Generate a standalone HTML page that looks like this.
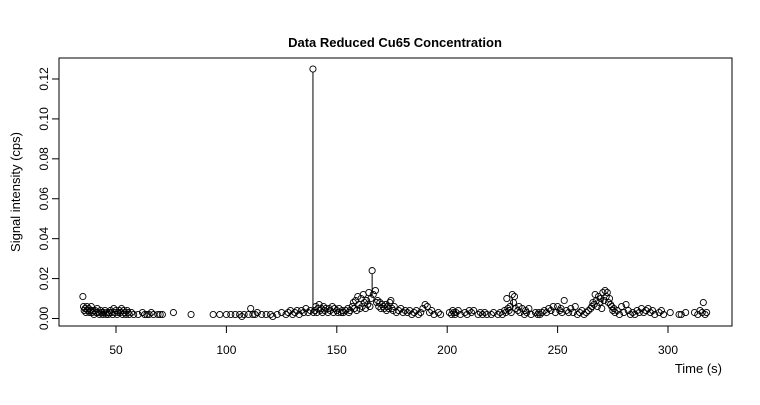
<!DOCTYPE html>
<html><head><meta charset="utf-8"><style>
body{margin:0;background:#fff}
svg text{font-family:"Liberation Sans",sans-serif;fill:#000}
</style></head><body>
<svg id="chart" width="760" height="400" xmlns="http://www.w3.org/2000/svg">
<rect width="760" height="400" fill="#fff"/>
<text x="395" y="47" text-anchor="middle" font-size="13" font-weight="bold">Data Reduced Cu65 Concentration</text>
<rect x="59" y="58" width="673" height="268" fill="none" stroke="#000" stroke-width="1"/>
<text transform="translate(20,192) rotate(-90)" text-anchor="middle" font-size="13">Signal intensity (cps)</text>
<text x="722" y="373" text-anchor="end" font-size="13">Time (s)</text>
<g id="axes"></g>
<g id="marks"></g>
</svg>
<script>
const xTicks=[50,100,150,200,250,300];
const yTicks=[0,0.02,0.04,0.06,0.08,0.1,0.12];
const yTickLabels=["0.00","0.02","0.04","0.06","0.08","0.10","0.12"];
const times=[35,35.3,35.6,36,36.4,36.8,37.2,37.6,38,38.4,38.8,39.2,39.6,40,40.5,41,41.5,42,42.5,43,43.5,44,44.5,45,45.5,46,46.5,47,47.5,48,48.5,49,49.5,50,50.5,51,51.5,52,52.5,53,53.5,54,54.5,55,55.5,56,57,58,60,62,63,64,65,66,67,69,70,71,76,84,94,97,100,102,104,106,107,108,110,111,112,113,114,116,118,120,121,123,125,127,128,129,130,131,132,133,134,135,136,137,138,139.2,139.5,140,140.5,141,141.5,142,142.5,143,143.5,144,144.5,145,146,146.5,147,148,148.5,149,150,150.5,151,152,152.5,153,154,155,155.5,156,157,157.5,158,158.5,159,159.5,160,160.5,161,161.5,162,162.5,163,163.5,164,164.5,165,165.5,166,166.5,167.5,168,168.5,169,169.5,170,170.5,171,171.5,172,172.5,173,173.5,174,174.5,175,175.5,176,177,178,179,180,181,182,183,184,185,186,187,188,189,190,191,192,193,194,196,197,201,202,202.5,203,203.5,204,205,206,208,209,210,211,212,214,215,216,217,218,220,221,223,224,225,226,226.5,227,227.5,228,228.5,229,229.5,230,230.5,231,232,232.5,233,234,235,235.5,236,237,238,240,241,241.5,242,243,244,245,246,247,248,249,250,251,251.5,252,253,254,255,256,257,258,259,260,261,262,263,264,265,265.5,266,266.5,267,267.5,268,268.5,269,269.5,270,270.5,271,271.5,272,272.5,273,273.5,274,274.5,275,275.5,276,277,278,279,280,281,282,283,284,285,286,287,288,289,290,291,292,293,294,296,297,298,301,305,306,308,312,313.5,314.5,315.5,316,316.8,317.5];
const valuesMilli=[11,6,4,5,3,6,4,5,3,4,6,3,4,2,4,3,5,3,2,4,3,2,3,4,2,3,2,3,4,3,2,5,3,4,2,3,4,3,5,2,4,3,2,4,3,2,3,2,2,3,2,2,2,3,2,2,2,2,3,2,2,2,2,2,2,2,1,2,2,5,2,2,3,2,2,2,1,2,3,2,3,4,2,3,4,2,4,3,5,3,4,125,3,4,6,3,5,7,4,5,3,6,4,5,3,5,4,6,3,5,4,3,5,3,4,3,4,5,3,4,6,8,5,9,4,11,7,5,10,6,12,8,5,9,7,13,6,10,24,12,14,8,9,6,8,5,7,6,5,7,4,6,5,8,9,5,4,6,3,4,5,3,4,3,4,2,3,4,2,3,5,7,6,3,4,2,3,2,3,2,4,3,2,3,4,2,3,2,4,3,4,2,3,2,3,2,2,3,2,3,2,4,3,10,5,4,6,3,12,8,11,5,4,6,3,5,2,4,3,5,2,3,2,3,2,3,4,3,5,4,6,3,6,4,5,3,9,4,3,5,3,6,2,3,4,2,3,4,5,6,8,7,12,9,6,11,8,10,5,13,9,14,11,13,8,10,7,6,4,5,3,4,2,6,3,7,4,2,3,2,4,3,5,3,4,5,3,4,2,3,4,2,3,2,2,3,3,2,4,3,8,2,3,4];
const NS="http://www.w3.org/2000/svg";
const X0=59,X1=732,Y0=58,Y1=326,R=3.1;
function xScale(t){return 116+(t-50)*(668-116)/250;}
function yScale(v){return 318.5-v*(318.5-79)/0.12;}
const axes=document.getElementById('axes');
const marks=document.getElementById('marks');
function mk(tag,attrs,parent){const e=document.createElementNS(NS,tag);for(const k in attrs)e.setAttribute(k,attrs[k]);parent.appendChild(e);return e;}
xTicks.forEach((t,i)=>{
  const x=xScale(t);
  const l=mk('line',{x1:x,x2:x,y1:Y1,y2:Y1+7,stroke:'#000'},axes);
  
  
  const tx=mk('text',{x:x,y:354,'text-anchor':'middle','font-size':'12'},axes);
  tx.textContent=String(t);
  
  
});
yTicks.forEach((v,i)=>{
  const y=yScale(v);
  const l=mk('line',{x1:X0-7,x2:X0,y1:y,y2:y,stroke:'#000'},axes);
  
  
  const tx=mk('text',{transform:`translate(48,${y}) rotate(-90)`,'text-anchor':'middle','font-size':'12'},axes);
  tx.textContent=yTickLabels[i];
  
  
});
const pts=times.map((t,i)=>[xScale(t),yScale(valuesMilli[i]/1000)]);
// vertical spike lines from local peaks that jump far above their neighbours
for(let i=1;i<pts.length-1;i++){
  const y=pts[i][1],yl=pts[i-1][1],yr=pts[i+1][1];
  const lower=Math.min(yl,yr);
  if(y<yl&&y<yr&&(Math.max(yl,yr)-y)>15){
    const base=Math.max(yl,yr)-(Math.max(yl,yr)-lower)*0;
    const s=mk('line',{x1:pts[i][0],y1:y+R,x2:pts[i][0],y2:Math.min(yl,yr)>y+2*R?Math.min(yl,yr)+ (Math.max(yl,yr)-Math.min(yl,yr))*0.5:y+R,stroke:'#000','stroke-width':'1'},marks);
    
    
  }
}
pts.forEach(p=>{
  const c=mk('circle',{cx:p[0],cy:p[1],r:R,fill:'none',stroke:'#000','stroke-width':'0.9'},marks);
  
  
});
</script>
</body></html>
